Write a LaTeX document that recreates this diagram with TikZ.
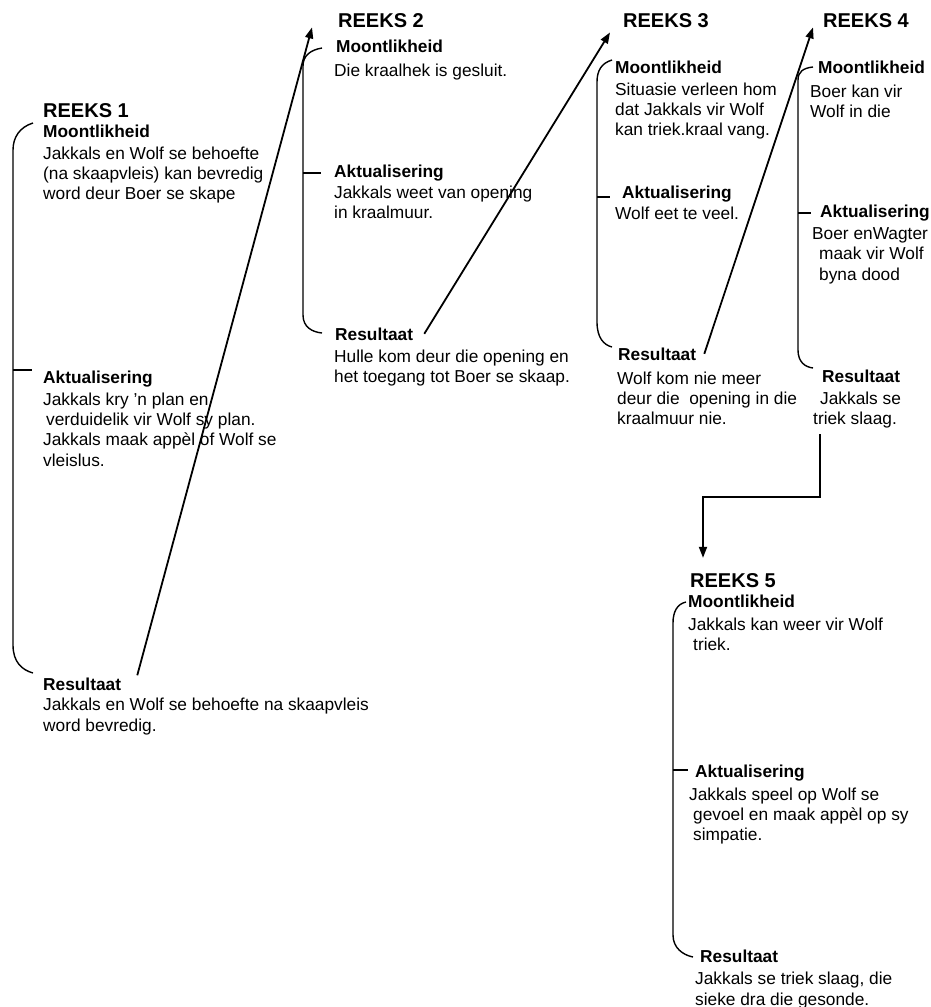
\documentclass[tikz,border=0pt]{standalone}
\usepackage{fontspec}
\setmainfont{Liberation Sans}
\usetikzlibrary{arrows.meta}

\begin{document}
\begin{tikzpicture}[x=1pt, y=-1pt,
        titel/.style={font=\fontsize{20}{22}\selectfont\bfseries, inner sep=0pt, anchor=base west},
        kop/.style={font=\fontsize{17.3}{20}\selectfont\bfseries, inner sep=0pt, anchor=base west},
        teks/.style={font=\fontsize{17.3}{20.3}\selectfont, inner sep=0pt, anchor=north west, align=left},
        hakie/.style={black, line width=1.4pt},
        pyl/.style={black, line width=1.8pt, -{Triangle[length=11pt, width=8pt]}}]
        \useasboundingbox (0,0) rectangle (931,1007);
        % Reeks 1
        \node[titel] (r1t) at (43,117) {REEKS 1};
        \node[kop] (r1mh) at (43,137) {Moontlikheid};
        \node[teks] (r1mb) at (43,146.5) {Jakkals en Wolf se behoefte\\(na skaapvleis) kan bevredig\\word deur Boer se skape};
        \node[kop] (r1ah) at (43,383) {Aktualisering};
        \node[teks] (r1ab) at (43,392.5) {Jakkals kry 'n plan en\\\hspace*{3pt}verduidelik vir Wolf sy plan.\\Jakkals maak appèl of Wolf se\\vleislus.};
        \node[kop] (r1rh) at (43,690) {Resultaat};
        \node[teks] (r1rb) at (43,698) {Jakkals en Wolf se behoefte na skaapvleis\\word bevredig.};
        
        % Reeks 2
        \node[titel] (r2t) at (338,27) {REEKS 2};
        \node[kop] (r2mh) at (336,52) {Moontlikheid};
        \node[teks] (r2mb) at (334,63.5) {Die kraalhek is gesluit.};
        \node[kop] (r2ah) at (334,177) {Aktualisering};
        \node[teks] (r2ab) at (334,185.5) {Jakkals weet van opening\\in kraalmuur.};
        \node[kop] (r2rh) at (335,340) {Resultaat};
        \node[teks] (r2rb) at (334,349.5) {Hulle kom deur die opening en\\het toegang tot Boer se skaap.};
        
        % Reeks 3
        \node[titel] (r3t) at (623,27) {REEKS 3};
        \node[kop] (r3mh) at (615,73) {Moontlikheid};
        \node[teks] (r3mb) at (615,82.5) {Situasie verleen hom\\dat Jakkals vir Wolf\\kan triek.kraal vang.};
        \node[kop] (r3ah) at (622,198) {Aktualisering};
        \node[teks] (r3ab) at (615,206.5) {Wolf eet te veel.};
        \node[kop] (r3rh) at (618,360) {Resultaat};
        \node[teks] (r3rb) at (617,371.5) {Wolf kom nie meer\\deur die\ \ opening in die\\kraalmuur nie.};
        
        % Reeks 4
        \node[titel] (r4t) at (823,27) {REEKS 4};
        \node[kop] (r4mh) at (818,73) {Moontlikheid};
        \node[teks] (r4mb) at (810,84.5) {Boer kan vir\\Wolf in die};
        \node[kop] (r4ah) at (820,217) {Aktualisering};
        \node[teks] (r4ab) at (812,227.5) {Boer enWagter\\\hspace*{7pt}maak vir Wolf\\\hspace*{7pt}byna dood};
        \node[kop] (r4rh) at (822,382) {Resultaat};
        \node[teks] (r4rb) at (813,391.5) {\hspace*{7pt}Jakkals se\\triek slaag.};
        
        % Reeks 5
        \node[titel] (r5t) at (690,587) {REEKS 5};
        \node[kop] (r5mh) at (688,607) {Moontlikheid};
        \node[teks] (r5mb) at (688,617.5) {Jakkals kan weer vir Wolf\\\hspace*{5pt}triek.};
        \node[kop] (r5ah) at (695,777) {Aktualisering};
        \node[teks] (r5ab) at (689,787.5) {Jakkals speel op Wolf se\\\hspace*{4pt}gevoel en maak appèl op sy\\\hspace*{4pt}simpatie.};
        \node[kop] (r5rh) at (700,962) {Resultaat};
        \node[teks] (r5rb) at (695,972) {Jakkals se triek slaag, die\\sieke dra die gesonde.};
        
        % Hakies
        \draw[hakie] (33,123) .. controls (20,127) and (13,137) .. (13,150) -- (13,645)
            .. controls (13,662) and (22,670) .. (33,673);
        \draw[hakie] (13,370) -- (32,370);
        \draw[hakie] (322,48) .. controls (310,50) and (303,56) .. (303,66) -- (303,315)
            .. controls (303,327) and (312,332) .. (322,333);
        \draw[hakie] (303,173) -- (321,173);
        \draw[hakie] (612,60) .. controls (602,63) and (597,70) .. (597,82) -- (597,322)
            .. controls (597,338) and (604,345) .. (612,347);
        \draw[hakie] (597,197) -- (610,197);
        \draw[hakie] (813,67) .. controls (803,68) and (798,72) .. (798,80) -- (798,350)
            .. controls (798,362) and (805,367) .. (813,368);
        \draw[hakie] (798,213) -- (811,213);
        \draw[hakie] (686,602) .. controls (677,604) and (673,612) .. (673,623) -- (673,935)
            .. controls (673,948) and (683,955) .. (693,957);
        \draw[hakie] (673,770) -- (688,770);
        
        % Pyle
        \draw[pyl] ([xshift=16pt, yshift=2pt]r1rh.north east) -- ([xshift=-26pt]r2t.south west);
        \draw[pyl] ([xshift=11pt]r2rh.east) -- ([xshift=-13pt, yshift=-5pt]r3t.south west);
        \draw[pyl] ([xshift=8pt]r3rh.east) -- ([xshift=-10pt]r4t.south west);
        \draw[pyl] ([xshift=7pt, yshift=-6pt]r4rb.south west) -- ++(0,63) -| ([xshift=13pt, yshift=15pt]r5t.north west);
    \end{tikzpicture}
\end{document}
